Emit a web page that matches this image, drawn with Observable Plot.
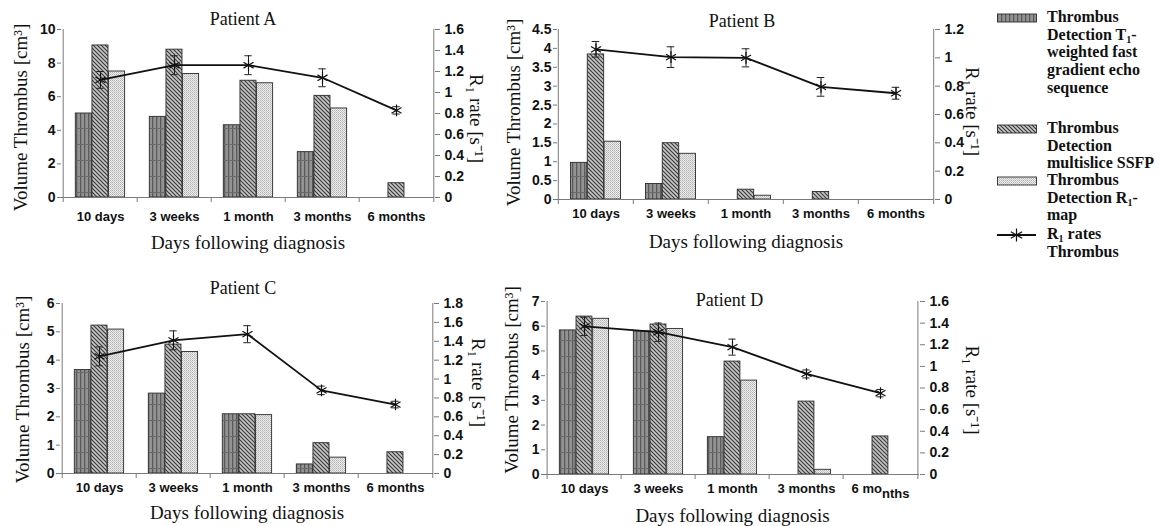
<!DOCTYPE html>
<html><head><meta charset="utf-8">
<script src="https://cdn.jsdelivr.net/npm/d3@7"></script>
<script src="https://cdn.jsdelivr.net/npm/@observablehq/plot@0.6"></script>
<style>
body{margin:0;background:#fff;}
#root{position:relative;width:1161px;height:526px;overflow:hidden;}
.layer{position:absolute;}
.layer svg{overflow:visible;}
.leg{position:absolute;left:1047px;font-family:"Liberation Serif","Times New Roman",serif;font-weight:bold;font-size:16px;line-height:17.7px;color:#111;white-space:nowrap;}
.leg sub{font-size:10px;vertical-align:-3px;line-height:0;}
.sw{position:absolute;left:997px;}
</style></head><body>
<svg width="0" height="0" style="position:absolute">
<defs>
<pattern id="pT1" width="4" height="16" patternUnits="userSpaceOnUse">
 <rect width="4" height="16" fill="#939393"/>
 <rect x="0" width="1.3" height="16" fill="#5a5a5a"/>
 <rect y="0" width="4" height="1" fill="#6a6a6a"/>
</pattern>
<pattern id="pSSFP" width="4" height="4" patternUnits="userSpaceOnUse">
 <rect width="4" height="4" fill="#c6c6c6"/>
 <path d="M-1,-1L5,5M-1,3L1,5M3,-1L5,1" stroke="#3a3a3a" stroke-width="1.15"/>
</pattern>
<pattern id="pMap" width="2" height="2" patternUnits="userSpaceOnUse">
 <rect width="2" height="2" fill="#ececec"/>
 <rect width="1" height="1" fill="#b2b2b2"/>
 <rect x="1" y="1" width="1" height="1" fill="#c6c6c6"/>
</pattern>
</defs></svg>
<div id="root"></div>
<script>
const categories = ["10 days", "3 weeks", "1 month", "3 months", "6 months"];

// Patient A
const t1A   = [5.0, 4.8, 4.3, 2.7, 0];
const ssfpA = [9.05, 8.8, 6.95, 6.05, 0.85];
const mapA  = [7.5, 7.35, 6.8, 5.3, 0];
const rateA = [1.12, 1.26, 1.26, 1.14, 0.83];
const errA  = [0.08, 0.09, 0.09, 0.085, 0.035];
// Patient B
const t1B   = [0.97, 0.41, 0, 0, 0];
const ssfpB = [3.84, 1.49, 0.26, 0.2, 0];
const mapB  = [1.53, 1.21, 0.1, 0, 0];
const rateB = [1.06, 1.005, 1.0, 0.795, 0.75];
const errB  = [0.055, 0.073, 0.064, 0.066, 0.042];
// Patient C
const t1C   = [3.65, 2.82, 2.09, 0.32, 0];
const ssfpC = [5.22, 4.55, 2.09, 1.07, 0.75];
const mapC  = [5.08, 4.29, 2.06, 0.56, 0];
const rateC = [1.24, 1.41, 1.475, 0.88, 0.73];
const errC  = [0.1, 0.1, 0.09, 0.045, 0.035];
// Patient D
const t1D   = [5.83, 5.79, 1.51, 0, 0];
const ssfpD = [6.39, 6.07, 4.57, 2.95, 1.54];
const mapD  = [6.3, 5.89, 3.8, 0.19, 0];
const rateD = [1.37, 1.316, 1.178, 0.93, 0.752];
const errD  = [0.085, 0.085, 0.074, 0.037, 0.034];

// axis ticks
const yTicksA = [0, 2, 4, 6, 8, 10];
const rTicksA = [0, 0.2, 0.4, 0.6, 0.8, 1, 1.2, 1.4, 1.6];
const yTicksB = [0, 0.5, 1, 1.5, 2, 2.5, 3, 3.5, 4, 4.5];
const rTicksB = [0, 0.2, 0.4, 0.6, 0.8, 1, 1.2];
const yTicksC = [0, 1, 2, 3, 4, 5, 6];
const rTicksC = [0, 0.2, 0.4, 0.6, 0.8, 1, 1.2, 1.4, 1.6, 1.8];
const yTicksD = [0, 1, 2, 3, 4, 5, 6, 7];
const rTicksD = [0, 0.2, 0.4, 0.6, 0.8, 1, 1.2, 1.4, 1.6];

const titles = ["Patient A", "Patient B", "Patient C", "Patient D"];
const xLabel = "Days following diagnosis";
const yLabel = "Volume Thrombus [cm³]";
const rLabel = "R₁ rate [s⁻¹]";

const seriesKeys = ["t1", "ssfp", "map"];
const seriesFill = {t1: "url(#pT1)", ssfp: "url(#pSSFP)", map: "url(#pMap)"};

const axisColor = "#7a7a7a";
const serif = "Liberation Serif, Times New Roman, serif";
const sans = "Liberation Sans, Arial, sans-serif";
const fmt = d => String(+d.toFixed(2));
const root = document.getElementById("root");

function panel(p) {
  const fw = p.w - p.ml - p.mr, fh = p.h - p.mt - p.mb;
  const bw = fw / categories.length;
  const rows = categories.map((c, i) => ({c, t1: p.t1[i], ssfp: p.ssfp[i], map: p.map[i], rate: p.rate[i], err: p.err[i]}));
  const common = {width: p.w, height: p.h, marginLeft: p.ml, marginRight: p.mr, marginTop: p.mt, marginBottom: p.mb};
  const ymax = p.yTicks[p.yTicks.length - 1], rmax = p.rTicks[p.rTicks.length - 1];
  const off = 0.165, bar = 0.223;
  const bars = seriesKeys.map((k, i) => Plot.barY(rows.filter(d => d[k] > 0), {
    x: "c", y: k, fill: seriesFill[k], stroke: "#2b2b2b", strokeWidth: 0.9,
    insetLeft: bw * (off + i * bar), insetRight: bw - bw * (off + (i + 1) * bar)
  }));
  const below = -ymax * 5 / fh;
  const bottom = Plot.plot({
    ...common,
    style: {background: "white", overflow: "visible"},
    x: {type: "band", domain: categories, padding: 0, axis: null},
    y: {domain: [0, ymax], axis: null},
    marks: [
      ...bars,
      Plot.ruleY([0], {stroke: axisColor}),
      Plot.ruleX([categories[0]], {dx: -bw / 2, y1: 0, y2: ymax, stroke: axisColor}),
      Plot.ruleX(categories, {x: d => d, dx: -bw / 2, y1: 0, y2: below, stroke: axisColor}),
      Plot.ruleX([categories[categories.length - 1]], {dx: bw / 2, y1: 0, y2: below, stroke: axisColor}),
      Plot.axisY(p.yTicks, {anchor: "left", tickSize: 4, tickPadding: 2, stroke: axisColor, color: "#111", tickFormat: fmt, label: null, fontSize: 14, fontWeight: "bold", fontFamily: sans}),
      Plot.axisX({tickSize: 0, tickPadding: p.xtp, color: "#111", label: null, fontSize: 13, fontWeight: "bold", fontFamily: sans}),
      Plot.text([p.title], {frameAnchor: "top", lineAnchor: "middle", textAnchor: "middle", dx: p.tdx, dy: p.tdy, fontSize: 18, fontFamily: serif, fill: "#111"}),
      Plot.text([xLabel], {frameAnchor: "bottom", lineAnchor: "middle", textAnchor: "middle", dy: p.xdy, fontSize: 19, fontFamily: serif, fill: "#111"}),
      Plot.text([yLabel], {frameAnchor: "left", lineAnchor: "middle", textAnchor: "middle", rotate: -90, dx: p.ydx, dy: p.ydy, fontSize: 19, fontFamily: serif, fill: "#111"})
    ]
  });
  const top = Plot.plot({
    ...common,
    style: {background: "transparent", overflow: "visible"},
    x: {type: "band", domain: categories, padding: 0, axis: null},
    y: {domain: [0, rmax], axis: null},
    marks: [
      Plot.ruleX([categories[categories.length - 1]], {dx: bw / 2, y1: 0, y2: rmax, stroke: axisColor}),
      Plot.axisY(p.rTicks, {anchor: "right", tickSize: 5, tickPadding: 5, stroke: axisColor, color: "#111", tickFormat: fmt, label: null, fontSize: 14, fontWeight: "bold", fontFamily: sans}),
      Plot.line(rows, {x: "c", y: "rate", stroke: "#111", strokeWidth: 1.8}),
      Plot.ruleX(rows, {x: "c", y1: d => d.rate - d.err, y2: d => d.rate + d.err, stroke: "#222", strokeWidth: 1}),
      Plot.tickY(rows, {x: "c", y: d => d.rate + d.err, stroke: "#222", insetLeft: bw / 2 - 4, insetRight: bw / 2 - 4}),
      Plot.tickY(rows, {x: "c", y: d => d.rate - d.err, stroke: "#222", insetLeft: bw / 2 - 4, insetRight: bw / 2 - 4}),
      Plot.dot(rows, {x: "c", y: "rate", symbol: "asterisk", r: 5.5, stroke: "#111", strokeWidth: 1.2}),
      Plot.text([rLabel], {frameAnchor: "right", lineAnchor: "middle", textAnchor: "middle", rotate: 90, dx: p.rdx, dy: p.rdy, fontSize: 19, fontFamily: serif, fill: "#111"})
    ]
  });
  for (const svg of [bottom, top]) {
    const div = document.createElement("div");
    div.className = "layer";
    div.style.left = p.left + "px";
    div.style.top = p.top + "px";
    div.style.width = p.w + "px";
    div.style.height = p.h + "px";
    div.appendChild(svg);
    root.appendChild(div);
  }
  return bottom;
}

panel({left: 0, top: 0, w: 500, h: 260, ml: 61, mr: 66, mt: 29, mb: 63,
  t1: t1A, ssfp: ssfpA, map: mapA, rate: rateA, err: errA, yTicks: yTicksA, rTicks: rTicksA,
  title: titles[0], tdx: -5, tdy: -10, xtp: 14, xdy: 45, ydx: -41, ydy: 4, rdx: 42, rdy: 5});
panel({left: 500, top: 0, w: 495, h: 260, ml: 57, mr: 61, mt: 29, mb: 61,
  t1: t1B, ssfp: ssfpB, map: mapB, rate: rateB, err: errB, yTicks: yTicksB, rTicks: rTicksB,
  title: titles[1], tdx: -4, tdy: -8, xtp: 9, xdy: 42, ydx: -44, ydy: -2, rdx: 38, rdy: -3});
panel({left: 0, top: 260, w: 500, h: 266, ml: 60, mr: 67, mt: 43, mb: 53,
  t1: t1C, ssfp: ssfpC, map: mapC, rate: rateC, err: errC, yTicks: yTicksC, rTicks: rTicksC,
  title: titles[2], tdx: -4, tdy: -15, xtp: 9, xdy: 39, ydx: -38, ydy: 1, rdx: 45, rdy: -6});
const pD = panel({left: 500, top: 260, w: 495, h: 266, ml: 45, mr: 76, mt: 41, mb: 52,
  t1: t1D, ssfp: ssfpD, map: mapD, rate: rateD, err: errD, yTicks: yTicksD, rTicks: rTicksD,
  title: titles[3], tdx: -3, tdy: -1, xtp: 9, xdy: 41, ydx: -34, ydy: -8, rdx: 53, rdy: 2});

// Panel D: the last tick label has its tail lowered in the original figure
d3.select(pD).selectAll("text").filter(function() { return this.textContent === "6 months"; })
  .each(function() {
    const t = d3.select(this);
    t.text("6 mo");
    t.append("tspan").attr("dy", 5).text("nths");
  });

// Legend
const legendItems = [
  {top: 8, html: "Thrombus<br>Detection T<sub>1</sub>-<br>weighted fast<br>gradient echo<br>sequence", fill: seriesFill.t1, cy: 18},
  {top: 119, html: "Thrombus<br>Detection<br>multislice SSFP", fill: seriesFill.ssfp, cy: 129},
  {top: 171, html: "Thrombus<br>Detection R<sub>1</sub>-<br>map", fill: seriesFill.map, cy: 181},
  {top: 225, html: "R<sub>1</sub> rates<br>Thrombus", fill: null, cy: 235}
];
for (const it of legendItems) {
  const d = document.createElement("div");
  d.className = "leg";
  d.style.top = it.top + "px";
  d.innerHTML = it.html;
  root.appendChild(d);
  const sw = d3.create("svg").attr("class", "sw").attr("width", 42).attr("height", 14)
    .style("left", "997px").style("top", (it.cy - 7) + "px").style("position", "absolute");
  if (it.fill) {
    sw.append("rect").attr("x", 0.5).attr("y", 3).attr("width", 39).attr("height", 8)
      .attr("fill", it.fill).attr("stroke", "#2b2b2b").attr("stroke-width", 0.9);
  } else {
    sw.append("line").attr("x1", 0).attr("x2", 39).attr("y1", 7).attr("y2", 7).attr("stroke", "#111").attr("stroke-width", 1.8);
    sw.append("path").attr("transform", "translate(19.5,7)")
      .attr("d", d3.symbol(d3.symbolAsterisk, 120)()).attr("fill", "none").attr("stroke", "#111").attr("stroke-width", 1.2);
  }
  root.appendChild(sw.node());
}
</script>
</body></html>
